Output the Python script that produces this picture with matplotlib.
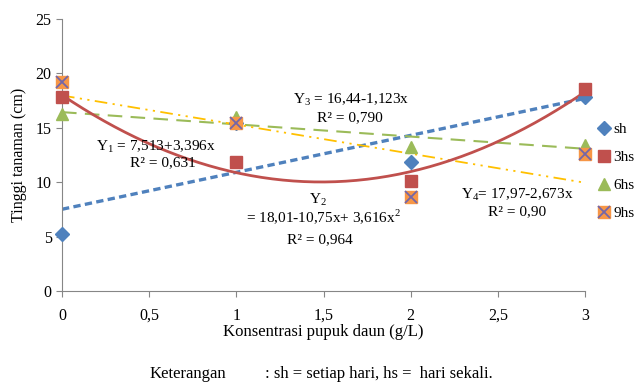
import numpy as np
import matplotlib
matplotlib.use("Agg")
import matplotlib.pyplot as plt

plt.rcParams["font.family"] = ["Liberation Serif", "DejaVu Serif"]
plt.rcParams["mathtext.fontset"] = "custom"
plt.rcParams["mathtext.rm"] = "Liberation Serif"

# data
konsentrasi = [0, 1, 2, 3]
sh = [5.25, 15.4, 11.9, 17.8]
hs3 = [17.8, 11.9, 10.1, 18.6]
hs6 = [16.3, 16.0, 13.2, 13.4]
hs9 = [19.2, 15.4, 8.6, 12.6]

# trend line coefficients as printed in the chart (intercept, slope[, quad])
coef_sh = [7.513, 3.396]
coef_3hs = [18.01, -10.75, 3.616]
coef_6hs = [16.44, -1.123]
coef_9hs = [17.97, -2.673]

xticks = [0, 0.5, 1, 1.5, 2, 2.5, 3]
xtick_labels = ["0", "0,5", "1", "1,5", "2", "2,5", "3"]
yticks = [0, 5, 10, 15, 20, 25]

c_blue = "#4F81BD"
c_red = "#C0504D"
c_green = "#9BBB59"
c_orange = "#F79646"
c_purple = "#7466A8"
c_yellow = "#FFC000"
c_axis = "#868686"

fig = plt.figure(figsize=(6.36, 3.84), dpi=100)
ax = fig.add_axes([62 / 636, 1 - 291 / 384, (585 - 62) / 636, (291 - 19) / 384])

xs = np.linspace(0, 3, 200)
ax.plot(xs, coef_sh[0] + coef_sh[1] * xs, color=c_blue, lw=2.4,
        dashes=(2.2, 1.3), zorder=2)
ax.plot(xs, coef_6hs[0] + coef_6hs[1] * xs, color=c_green, lw=1.5,
        dashes=(7, 4), zorder=2)
ax.plot(xs, coef_9hs[0] + coef_9hs[1] * xs, color=c_yellow, lw=1.3,
        dashes=(7, 3, 1.2, 3, 1.2, 3), zorder=2)
ax.plot(xs, coef_3hs[0] + coef_3hs[1] * xs + coef_3hs[2] * xs ** 2,
        color=c_red, lw=2.0, zorder=2)

mk = dict(ls="none", clip_on=False)
ax.plot(konsentrasi, sh, "D", color=c_blue, ms=7.5, label="sh", zorder=4, **mk)
ax.plot(konsentrasi, hs3, "s", color=c_red, ms=9, label="3hs", zorder=4, **mk)
ax.plot(konsentrasi, hs6, "^", color=c_green, ms=9, label="6hs", zorder=4, **mk)
ax.plot(konsentrasi, hs9, "s", color=c_orange, ms=9, zorder=5, **mk)
ax.plot(konsentrasi, hs9, "x", color=c_purple, ms=9, mew=1.3, zorder=6, **mk)
h9 = ax.plot([], [], "s", color=c_orange, ms=9, ls="none")[0]
h9x = ax.plot([], [], "x", color=c_purple, ms=9, mew=1.3, ls="none")[0]

ax.set_xlim(0, 3)
ax.set_ylim(0, 25)
ax.set_xticks(xticks)
ax.set_xticklabels(xtick_labels)
ax.set_yticks(yticks)
for s in ["top", "right"]:
    ax.spines[s].set_visible(False)
for s in ["left", "bottom"]:
    ax.spines[s].set_color(c_axis)
    ax.spines[s].set_linewidth(0.8)
ax.tick_params(colors=c_axis, labelcolor="black", labelsize=11.5, length=4,
               width=0.8)
ax.tick_params(axis="x", pad=8)

ax.set_xlabel("Konsentrasi pupuk daun (g/L)", fontsize=12, labelpad=0)
ax.set_ylabel("Tinggi tanaman (cm)", fontsize=11.5, labelpad=6)

handles, labels = ax.get_legend_handles_labels()
handles.append((h9, h9x))
labels.append("9hs")
ax.legend(handles, labels, loc="center left", bbox_to_anchor=(1.008, 0.44),
          frameon=False, fontsize=11, handletextpad=0.0, handlelength=1.2,
          labelspacing=0.95, borderaxespad=0.2, borderpad=0.2)

fs = 11
ax.text(1.66, 17.6, "Y$_3$ = 16,44-1,123x", ha="center", va="center", fontsize=fs)
ax.text(1.65, 15.95, "R² = 0,790", ha="center", va="center", fontsize=fs)
ax.text(0.54, 13.3, "Y$_1$ = 7,513+3,396x", ha="center", va="center", fontsize=fs)
ax.text(0.58, 11.8, "R² = 0,631", ha="center", va="center", fontsize=fs)
ax.text(1.47, 8.4, "Y$_2$", ha="center", va="center", fontsize=fs)
ax.text(1.5, 6.8, "= 18,01-10,75x+ 3,616x$^2$", ha="center", va="center", fontsize=fs)
ax.text(1.48, 4.7, "R² = 0,964", ha="center", va="center", fontsize=fs)
ax.text(2.61, 8.9, "Y$_4$= 17,97-2,673x", ha="center", va="center", fontsize=fs)
ax.text(2.61, 7.3, "R² = 0,90", ha="center", va="center", fontsize=fs)

fig.text(226 / 636, 1 - 374 / 384, "Keterangan", ha="right", va="center", fontsize=12)
fig.text(265 / 636, 1 - 374 / 384, ": sh = setiap hari, hs =  hari sekali.",
         ha="left", va="center", fontsize=12)

fig.savefig("out.png", dpi=100)
